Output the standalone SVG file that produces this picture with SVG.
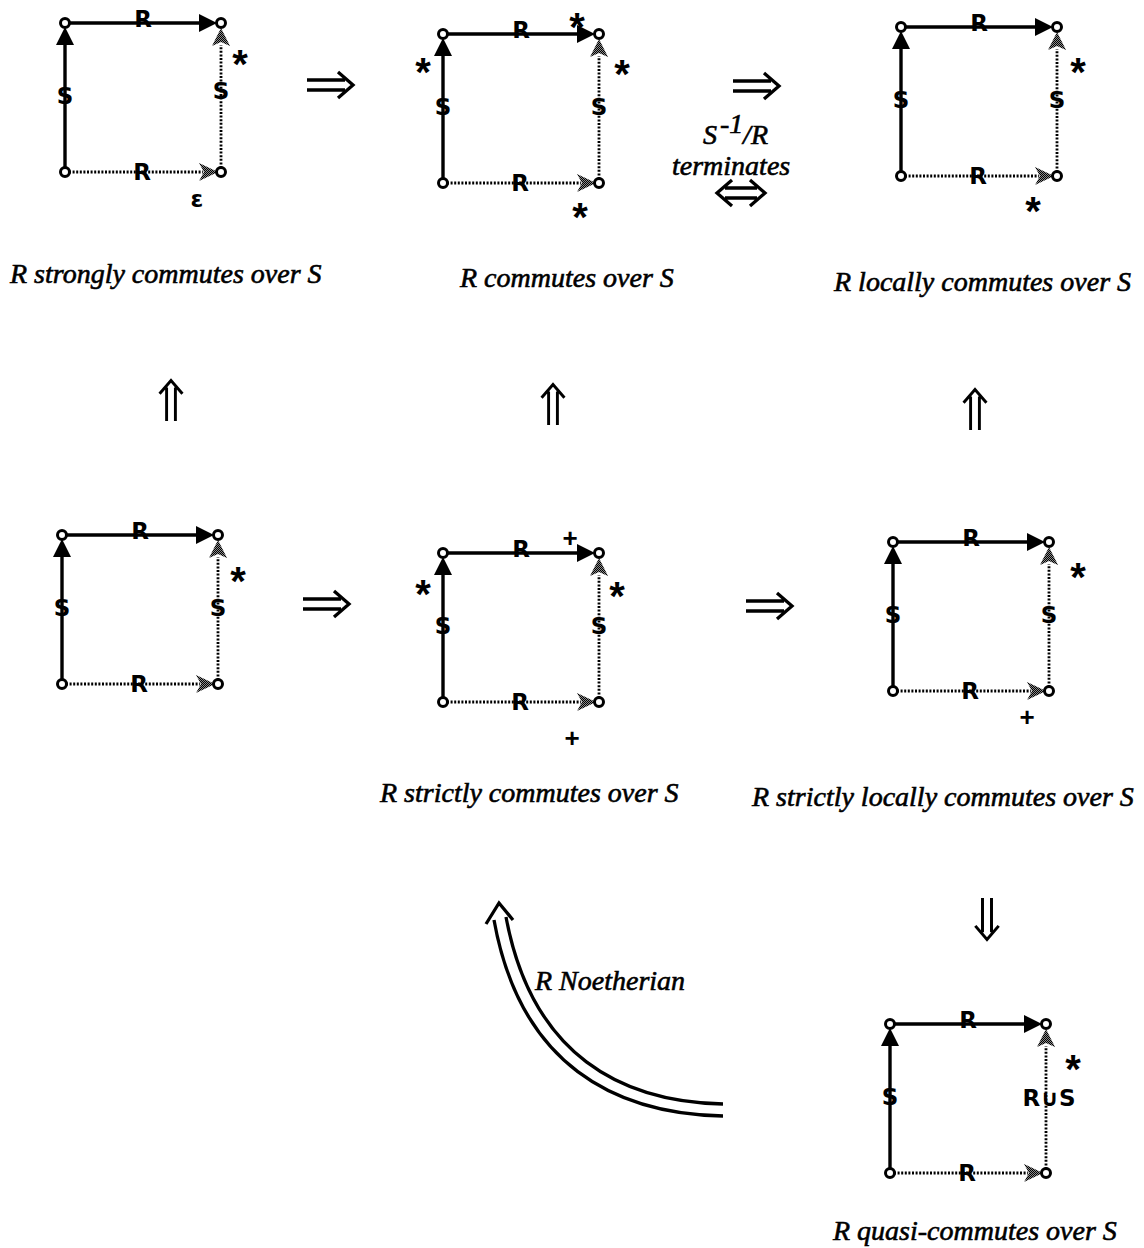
<svg xmlns="http://www.w3.org/2000/svg" xmlns:xlink="http://www.w3.org/1999/xlink" width="1144" height="1248" viewBox="0 0 1144 1248">
<style>
.cap{font-family:"Liberation Serif","Times New Roman",serif;font-style:italic;font-size:28px;fill:#000;stroke:#000;stroke-width:0.6}
.lbl{font-family:"DejaVu Sans","Liberation Sans",sans-serif;font-weight:bold;font-size:23px;text-anchor:middle;fill:#000}
.ast{font-family:"Liberation Sans",Arial,sans-serif;font-weight:bold;font-size:40px;text-anchor:middle;fill:#000}
.pls{font-family:"Liberation Sans",Arial,sans-serif;font-weight:bold;font-size:26px;text-anchor:middle;fill:#000}
.solid{stroke:#000;stroke-width:3.4;fill:none}
.dot{stroke:#000;stroke-width:2.8;fill:none;stroke-dasharray:2 1.6}
.hatch{fill:url(#checker)}
.node{fill:#fff;stroke:#000;stroke-width:3}
.imp{stroke:#000;stroke-width:3.3;fill:none;stroke-linejoin:miter}
</style>
<defs>
<pattern id="checker" width="2" height="2" patternUnits="userSpaceOnUse">
<rect width="2" height="2" fill="#8a8a8a"/>
<rect width="1" height="1" fill="#000"/>
<rect x="1" y="1" width="1" height="1" fill="#000"/>
</pattern>
<g id="sq">
<path class="solid" d="M4 0H136"/>
<polygon points="134,-9 152,0 134,9" fill="#000"/>
<path class="solid" d="M0 145V20"/>
<polygon points="-9,22 0,4 9,22" fill="#000"/>
<path class="dot" d="M156 145V22"/>
<polygon class="hatch" points="147,23 156,5 165,23 156,19"/>
<path class="dot" d="M4 149H138"/>
<polygon class="hatch" points="134,140 153,149 134,158 139,149"/>
<circle class="node" cx="0" cy="0" r="4.5"/>
<circle class="node" cx="156" cy="0" r="4.5"/>
<circle class="node" cx="0" cy="149" r="4.5"/>
<circle class="node" cx="156" cy="149" r="4.5"/>
<text class="lbl" x="78" y="4">R</text>
<text class="lbl" x="0" y="81">S</text>
<text class="lbl" x="77" y="157">R</text>
</g>
<path id="imp" class="imp" d="M0 -5H38M0 5H38M31 -13L46 0L31 13"/>
</defs>

<g id="connectors">
<use xlink:href="#imp" href="#imp" transform="translate(307,85)"/>
<use xlink:href="#imp" href="#imp" transform="translate(733,86)"/>
<path class="imp" transform="translate(717,193)" d="M8 -5H40M8 5H40M33 -13L48 0L33 13M15 -13L0 0L15 13"/>
<use xlink:href="#imp" href="#imp" transform="translate(171,421) rotate(-90) scale(0.88)"/>
<use xlink:href="#imp" href="#imp" transform="translate(553,425) rotate(-90) scale(0.88)"/>
<use xlink:href="#imp" href="#imp" transform="translate(975,430) rotate(-90) scale(0.88)"/>
<use xlink:href="#imp" href="#imp" transform="translate(303,604)"/>
<use xlink:href="#imp" href="#imp" transform="translate(746,606)"/>
<use xlink:href="#imp" href="#imp" transform="translate(987,898) rotate(90) scale(0.9)"/>
<path class="imp" stroke-width="3" d="M723 1116C615 1114 520 1065 494 920M723 1104C622 1102 532 1056 506 917M486 924L499 903L513 920"/>
<text class="cap" x="703" y="144" font-size="26">S</text>
<text class="cap" x="720" y="133" font-size="20">-1</text>
<text class="cap" x="743" y="144" font-size="18">/</text>
<text class="cap" x="751" y="144" font-size="26">R</text>
<text class="cap" x="672" y="175" font-size="28.5">terminates</text>
<text class="cap" x="535" y="990" font-size="27">R Noetherian</text>
</g>

<g id="d1">
<use xlink:href="#sq" href="#sq" transform="translate(65,23)"/>
<text class="lbl" x="221" y="99">S</text>
<text class="ast" x="240" y="78">*</text>
<text class="lbl" x="197" y="207" font-size="26">ε</text>
<text class="cap" x="10" y="283">R strongly commutes over S</text>
</g>

<g id="d2">
<use xlink:href="#sq" href="#sq" transform="translate(443,34)"/>
<text class="lbl" x="599" y="115">S</text>
<text class="ast" x="577" y="41">*</text>
<text class="ast" x="423" y="86">*</text>
<text class="ast" x="622" y="88">*</text>
<text class="ast" x="580" y="231">*</text>
<text class="cap" x="460" y="287">R commutes over S</text>
</g>

<g id="d3">
<use xlink:href="#sq" href="#sq" transform="translate(901,27)"/>
<text class="lbl" x="1057" y="108">S</text>
<text class="ast" x="1078" y="86">*</text>
<text class="ast" x="1033" y="225">*</text>
<text class="cap" x="834" y="291">R locally commutes over S</text>
</g>

<g id="d4">
<use xlink:href="#sq" href="#sq" transform="translate(62,535)"/>
<text class="lbl" x="218" y="616">S</text>
<text class="ast" x="238" y="595">*</text>
</g>

<g id="d5">
<use xlink:href="#sq" href="#sq" transform="translate(443,553)"/>
<text class="lbl" x="599" y="634">S</text>
<text class="pls" x="570" y="547">+</text>
<text class="ast" x="423" y="608">*</text>
<text class="ast" x="617" y="610">*</text>
<text class="pls" x="572" y="747">+</text>
<text class="cap" x="380" y="802">R strictly commutes over S</text>
</g>

<g id="d6">
<use xlink:href="#sq" href="#sq" transform="translate(893,542)"/>
<text class="lbl" x="1049" y="623">S</text>
<text class="ast" x="1078" y="591">*</text>
<text class="pls" x="1027" y="726">+</text>
<text class="cap" x="752" y="806">R strictly locally commutes over S</text>
</g>

<g id="d7">
<use xlink:href="#sq" href="#sq" transform="translate(890,1024)"/>
<text class="lbl" x="1049" y="1106">R∪S</text>
<text class="ast" x="1073" y="1083">*</text>
<text class="cap" x="833" y="1240">R quasi-commutes over S</text>
</g>
</svg>
